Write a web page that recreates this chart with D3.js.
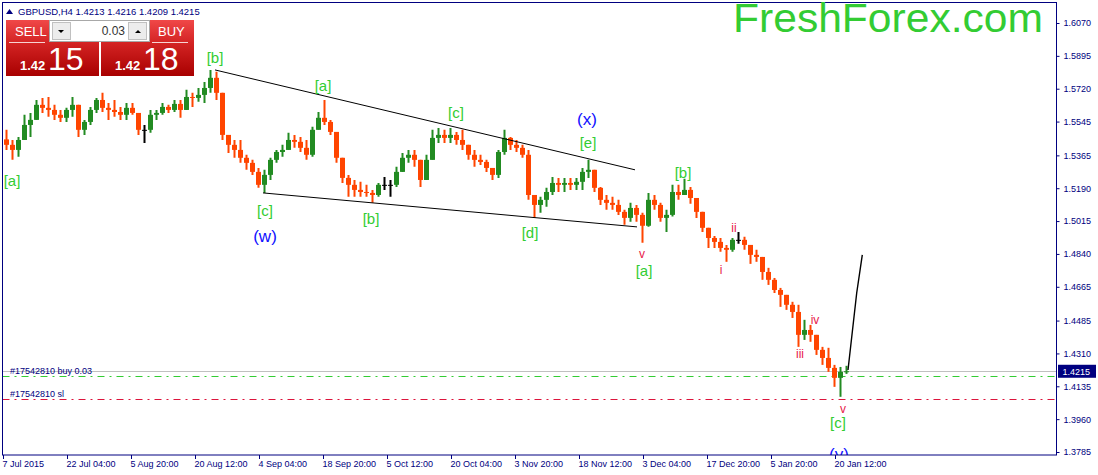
<!DOCTYPE html>
<html>
<head>
<meta charset="utf-8">
<script src="https://cdn.jsdelivr.net/npm/d3@7"></script>
<style>
  body { margin: 0; background: #fff; }
  svg { display: block; font-family: "Liberation Sans", Arial, sans-serif; }
</style>
</head>
<body>
<div id="chart"></div>
<script>
// GBPUSD H4 chart, price path (6 H4 bars each)

const symbol = "GBPUSD,H4";
const lastBar = ["1.4213", "1.4216", "1.4209", "1.4215"];
const lotSize = "0.03";
const sellQuote = ["1.42", "15"];
const buyQuote = ["1.42", "18"];
const ticket = "#17542810";

const firstOpen = 1.5450;
const highs = [
  1.5501, 1.5447, 1.5463, 1.5581, 1.5591, 1.5660, 1.5671, 1.5676, 1.5634, 1.5607,
  1.5618, 1.5676, 1.5634, 1.5554, 1.5623, 1.5671, 1.5698, 1.5644, 1.5660, 1.5623,
  1.5644, 1.5644, 1.5591, 1.5527, 1.5607, 1.5607, 1.5644, 1.5634, 1.5660, 1.5660,
  1.5714, 1.5698, 1.5724, 1.5756, 1.5820, 1.5810, 1.5698, 1.5474, 1.5447, 1.5447,
  1.5368, 1.5341, 1.5298, 1.5288, 1.5352, 1.5394, 1.5421, 1.5485, 1.5474, 1.5463,
  1.5447, 1.5517, 1.5596, 1.5660, 1.5554, 1.5490, 1.5352, 1.5261, 1.5234, 1.5224,
  1.5208, 1.5181, 1.5218, 1.5250, 1.5234, 1.5304, 1.5378, 1.5394, 1.5394, 1.5341,
  1.5368, 1.5501, 1.5511, 1.5501, 1.5511, 1.5490, 1.5501, 1.5421, 1.5394, 1.5368,
  1.5341, 1.5298, 1.5394, 1.5501, 1.5463, 1.5447, 1.5421, 1.5394, 1.5154, 1.5144,
  1.5192, 1.5250, 1.5245, 1.5245, 1.5245, 1.5245, 1.5298, 1.5341, 1.5288, 1.5197,
  1.5154, 1.5144, 1.5128, 1.5075, 1.5112, 1.5101, 1.5059, 1.5165, 1.5154, 1.5112,
  1.5075, 1.5208, 1.5208, 1.5240, 1.5197, 1.5138, 1.5064, 1.4979, 1.4936, 1.4925,
  1.4888, 1.4925, 1.4957, 1.4931, 1.4888, 1.4862, 1.4824, 1.4766, 1.4712, 1.4659,
  1.4622, 1.4585, 1.4569, 1.4489, 1.4462, 1.4409, 1.4345, 1.4340, 1.4249, 1.4238,
  1.4244
];
const lows = [
  1.5394, 1.5341, 1.5357, 1.5447, 1.5463, 1.5554, 1.5591, 1.5570, 1.5554, 1.5543,
  1.5543, 1.5570, 1.5463, 1.5474, 1.5527, 1.5591, 1.5596, 1.5554, 1.5570, 1.5554,
  1.5554, 1.5581, 1.5474, 1.5431, 1.5485, 1.5554, 1.5581, 1.5591, 1.5596, 1.5565,
  1.5607, 1.5623, 1.5650, 1.5644, 1.5698, 1.5660, 1.5447, 1.5378, 1.5352, 1.5325,
  1.5288, 1.5261, 1.5192, 1.5165, 1.5234, 1.5325, 1.5357, 1.5394, 1.5405, 1.5383,
  1.5341, 1.5357, 1.5501, 1.5527, 1.5474, 1.5325, 1.5218, 1.5144, 1.5144, 1.5144,
  1.5144, 1.5112, 1.5144, 1.5181, 1.5144, 1.5197, 1.5277, 1.5325, 1.5304, 1.5197,
  1.5234, 1.5341, 1.5431, 1.5431, 1.5431, 1.5421, 1.5394, 1.5341, 1.5304, 1.5314,
  1.5277, 1.5234, 1.5245, 1.5368, 1.5394, 1.5383, 1.5352, 1.5128, 1.5032, 1.5059,
  1.5091, 1.5154, 1.5170, 1.5170, 1.5181, 1.5181, 1.5181, 1.5245, 1.5170, 1.5101,
  1.5075, 1.5075, 1.5048, 1.4995, 1.5011, 1.5011, 1.4899, 1.4985, 1.5075, 1.5011,
  1.4957, 1.5040, 1.5128, 1.5154, 1.5107, 1.5032, 1.4957, 1.4872, 1.4872, 1.4851,
  1.4798, 1.4851, 1.4894, 1.4862, 1.4787, 1.4798, 1.4702, 1.4675, 1.4632, 1.4558,
  1.4542, 1.4499, 1.4345, 1.4382, 1.4372, 1.4302, 1.4249, 1.4212, 1.4132, 1.4079,
  1.4201
];
const closes = [
  1.5421, 1.5394, 1.5447, 1.5527, 1.5554, 1.5634, 1.5618, 1.5607, 1.5581, 1.5565,
  1.5607, 1.5634, 1.5501, 1.5543, 1.5607, 1.5660, 1.5618, 1.5607, 1.5596, 1.5581,
  1.5618, 1.5591, 1.5501, 1.5501, 1.5581, 1.5591, 1.5623, 1.5607, 1.5639, 1.5607,
  1.5676, 1.5671, 1.5687, 1.5724, 1.5778, 1.5698, 1.5474, 1.5421, 1.5394, 1.5352,
  1.5325, 1.5277, 1.5208, 1.5261, 1.5341, 1.5383, 1.5394, 1.5447, 1.5437, 1.5405,
  1.5368, 1.5501, 1.5565, 1.5543, 1.5490, 1.5352, 1.5245, 1.5208, 1.5181, 1.5170,
  1.5165, 1.5154, 1.5208, 1.5208, 1.5208, 1.5277, 1.5352, 1.5368, 1.5341, 1.5234,
  1.5341, 1.5458, 1.5474, 1.5458, 1.5474, 1.5447, 1.5421, 1.5368, 1.5341, 1.5330,
  1.5298, 1.5261, 1.5383, 1.5458, 1.5421, 1.5405, 1.5368, 1.5154, 1.5101, 1.5128,
  1.5170, 1.5218, 1.5208, 1.5218, 1.5208, 1.5224, 1.5277, 1.5288, 1.5192, 1.5128,
  1.5112, 1.5101, 1.5064, 1.5032, 1.5085, 1.5048, 1.4990, 1.5128, 1.5101, 1.5032,
  1.5048, 1.5170, 1.5154, 1.5181, 1.5138, 1.5064, 1.4979, 1.4925, 1.4904, 1.4872,
  1.4862, 1.4915, 1.4915, 1.4888, 1.4835, 1.4824, 1.4744, 1.4702, 1.4648, 1.4622,
  1.4569, 1.4531, 1.4409, 1.4435, 1.4409, 1.4329, 1.4286, 1.4233, 1.4180, 1.4212,
  1.4215
];

const barsPerDay = 6;
const barsPerTick = 64;
const timeLabels = [
  "7 Jul 2015", "22 Jul 04:00", "5 Aug 20:00", "20 Aug 12:00", "4 Sep 04:00",
  "18 Sep 20:00", "5 Oct 12:00", "20 Oct 04:00", "3 Nov 20:00", "18 Nov 12:00",
  "3 Dec 04:00", "17 Dec 20:00", "5 Jan 20:00", "20 Jan 12:00"
];
const priceTicks = [
  1.6070, 1.5895, 1.5720, 1.5545, 1.5365, 1.5190, 1.5015,
  1.4840, 1.4665, 1.4485, 1.4310, 1.4135, 1.3960, 1.3785
];

const bidPrice = 1.4215;
const buyPrice = 1.4190;
const slPrice = 1.4068;

// Dreieck (Trendlinien) und Projektion, in Bar/Preis
const trendUpper = [{ bar: 212, price: 1.5820 }, { bar: 632, price: 1.5288 }];
const trendLower = [{ bar: 260, price: 1.5165 }, { bar: 634, price: 1.4984 }];
const projection = [{ bar: 845, price: 1.4222 }, { bar: 853.7, price: 1.4632 }, { bar: 859.3, price: 1.4835 }];

// Wellen-Beschriftungen
const waveLabels = [
  { text: "[a]", kind: "minor", bar: 9, price: 1.5202 },
  { text: "[b]", kind: "minor", bar: 212, price: 1.5857 },
  { text: "[c]", kind: "minor", bar: 262, price: 1.5043 },
  { text: "(w)", kind: "inter", bar: 262, price: 1.4904 },
  { text: "[a]", kind: "minor", bar: 320, price: 1.5708 },
  { text: "[b]", kind: "minor", bar: 368, price: 1.5000 },
  { text: "[c]", kind: "minor", bar: 453, price: 1.5565 },
  { text: "[d]", kind: "minor", bar: 527, price: 1.4925 },
  { text: "(x)", kind: "inter", bar: 584, price: 1.5527 },
  { text: "[e]", kind: "minor", bar: 585, price: 1.5405 },
  { text: "v", kind: "minute", bar: 639, price: 1.4819 },
  { text: "[a]", kind: "minor", bar: 641, price: 1.4723 },
  { text: "[b]", kind: "minor", bar: 680, price: 1.5245 },
  { text: "i", kind: "minute", bar: 718, price: 1.4734 },
  { text: "ii", kind: "minute", bar: 731, price: 1.4957 },
  { text: "iii", kind: "minute", bar: 797, price: 1.4286 },
  { text: "iv", kind: "minute", bar: 812, price: 1.4467 },
  { text: "v", kind: "minute", bar: 840, price: 1.3993 },
  { text: "[c]", kind: "minor", bar: 835, price: 1.3914 },
  { text: "(y)", kind: "inter", bar: 836, price: 1.3743 }
];

const labelStyle = {
  minor: { fill: "#32cd32", size: 15 },
  inter: { fill: "#1010ff", size: 17 },
  minute: { fill: "#e8204a", size: 12 }
};

const width = 1098;
const height = 475;
const frame = { left: 2.5, top: 2.5, right: 1056.5, bottom: 455 };
const navy = "#000080";

const svg = d3.select("#chart").append("svg")
    .attr("width", width)
    .attr("height", height);

const x = d3.scaleLinear().domain([0, 1054]).range([3, 1057]);
const y = d3.scaleLinear().domain([1.3785, 1.6070]).range([452, 23]);

const defs = svg.append("defs");
defs.append("clipPath").attr("id", "plotClip")
  .append("rect")
    .attr("x", frame.left).attr("y", frame.top)
    .attr("width", frame.right - frame.left).attr("height", frame.bottom - frame.top);

const redGrad = defs.append("linearGradient").attr("id", "redGrad")
    .attr("x1", 0).attr("y1", 0).attr("x2", 0).attr("y2", 1);
redGrad.append("stop").attr("offset", "0%").attr("stop-color", "#f04848");
redGrad.append("stop").attr("offset", "40%").attr("stop-color", "#d42424");
redGrad.append("stop").attr("offset", "100%").attr("stop-color", "#a80000");

const plot = svg.append("g").attr("clip-path", "url(#plotClip)");

// Geldkurs- und Order-Linien
const snap = v => Math.round(v) + 0.5;
plot.append("line")
    .attr("x1", frame.left).attr("x2", frame.right)
    .attr("y1", snap(y(bidPrice))).attr("y2", snap(y(bidPrice)))
    .style("stroke", "#c0c0c0");

[[buyPrice, "#32cd32", " buy " + lotSize], [slPrice, "#dc143c", " sl"]].forEach(([p, col, txt]) => {
    plot.append("line")
        .attr("x1", frame.left).attr("x2", frame.right)
        .attr("y1", snap(y(p))).attr("y2", snap(y(p)))
        .style("stroke", col)
        .style("stroke-dasharray", "7,5,2,5");
    plot.append("text")
        .attr("x", 10).attr("y", y(p) - 2)
        .text(ticket + txt)
        .style("font-size", "9px")
        .style("fill", navy);
});

// Kerzen
const candles = closes.map((c, i) => ({
    bar: i * barsPerDay + barsPerDay / 2,
    open: i === 0 ? firstOpen : closes[i - 1],
    high: highs[i],
    low: lows[i],
    close: c
}));
const candleColor = d => d.close > d.open ? "#228b22" : (d.close < d.open ? "#ff4500" : "#000");

plot.selectAll("line.wick").data(candles).join("line")
    .attr("class", "wick")
    .attr("x1", d => Math.round(x(d.bar)) + 0.5)
    .attr("x2", d => Math.round(x(d.bar)) + 0.5)
    .attr("y1", d => y(d.high))
    .attr("y2", d => y(d.low))
    .style("stroke", candleColor)
    .style("stroke-width", 2);

plot.selectAll("rect.body").data(candles).join("rect")
    .attr("class", "body")
    .attr("x", d => Math.round(x(d.bar)) - 2)
    .attr("width", 5)
    .attr("y", d => y(Math.max(d.open, d.close)))
    .attr("height", d => Math.max(1, Math.abs(y(d.open) - y(d.close))))
    .style("fill", candleColor);

// Trendlinien
const line = d3.line().x(d => x(d.bar)).y(d => y(d.price));
[trendUpper, trendLower].forEach(t => {
    plot.append("path").attr("d", line(t))
        .style("fill", "none").style("stroke", "#000").style("stroke-width", 1);
});
plot.append("path").attr("d", line(projection))
    .style("fill", "none").style("stroke", "#000").style("stroke-width", 1.4);

// Wellen-Labels
plot.selectAll("text.wave").data(waveLabels).join("text")
    .attr("class", "wave")
    .attr("x", d => x(d.bar))
    .attr("y", d => y(d.price))
    .attr("text-anchor", "middle")
    .text(d => d.text)
    .style("font-size", d => labelStyle[d.kind].size + "px")
    .style("fill", d => labelStyle[d.kind].fill);

// Rahmen
svg.append("rect")
    .attr("x", frame.left).attr("y", frame.top)
    .attr("width", frame.right - frame.left).attr("height", frame.bottom - frame.top)
    .style("fill", "none").style("stroke", navy);

// Preisachse rechts
const yAxis = svg.append("g")
    .attr("transform", `translate(${frame.right},0)`)
    .call(d3.axisRight(y).tickValues(priceTicks).tickFormat(d3.format(".4f")).tickSize(3).tickPadding(4));
yAxis.select(".domain").remove();
yAxis.selectAll("line").style("stroke", navy);
yAxis.selectAll("text")
    .style("font-family", "'Liberation Sans', Arial, sans-serif")
    .style("font-size", "9px").style("fill", navy);

svg.append("rect")
    .attr("x", frame.right + 1.5).attr("y", y(bidPrice) - 6.5)
    .attr("width", 38).attr("height", 13)
    .style("fill", navy);
svg.append("text")
    .attr("x", frame.right + 6).attr("y", y(bidPrice) + 3.5)
    .text(d3.format(".4f")(bidPrice))
    .style("font-size", "9px").style("fill", "#fff");

// Zeitachse unten
const xAxis = svg.append("g")
    .attr("transform", `translate(0,${frame.bottom})`)
    .call(d3.axisBottom(x)
        .tickValues(timeLabels.map((_, i) => i * barsPerTick))
        .tickFormat((_, i) => timeLabels[i])
        .tickSize(4).tickPadding(2));
xAxis.select(".domain").remove();
xAxis.selectAll("line").style("stroke", navy);
xAxis.selectAll("text")
    .attr("text-anchor", "start")
    .attr("dx", -1)
    .style("font-family", "'Liberation Sans', Arial, sans-serif")
    .style("font-size", "9px").style("fill", navy);

// Kopfzeile
svg.append("path").attr("d", "M6,14 L9.5,9 L13,14 Z").style("fill", navy);
svg.append("text")
    .attr("x", 18).attr("y", 15)
    .text(symbol + "  " + lastBar.join(" "))
    .style("font-size", "9.5px").style("fill", navy);

// Logo
svg.append("text")
    .attr("x", 733).attr("y", 32)
    .attr("textLength", 310)
    .attr("lengthAdjust", "spacingAndGlyphs")
    .text("FreshForex.com")
    .style("font-size", "40px")
    .style("fill", "#33cc33");

// Handelspanel
function tradeBox(left, label, quote, labelX) {
    svg.append("rect")
        .attr("x", left).attr("y", 20).attr("width", 93).attr("height", 56)
        .style("fill", "url(#redGrad)");
    svg.append("line")
        .attr("x1", labelX - 6).attr("x2", labelX + 30)
        .attr("y1", 42.5).attr("y2", 42.5)
        .style("stroke", "#fff").style("stroke-opacity", 0.8);
    svg.append("text")
        .attr("x", labelX).attr("y", 36)
        .text(label)
        .style("font-size", "13px").style("fill", "#fff");
    svg.append("text")
        .attr("x", left + 14).attr("y", 70)
        .text(quote[0])
        .style("font-size", "13px").style("font-weight", "bold").style("fill", "#fff");
    svg.append("text")
        .attr("x", left + 42).attr("y", 70)
        .text(quote[1])
        .style("font-size", "32px").style("fill", "#fff");
}
tradeBox(6, "SELL", sellQuote, 15);
tradeBox(101, "BUY", buyQuote, 158);

svg.append("rect")
    .attr("x", 49.5).attr("y", 20.5).attr("width", 100).attr("height", 21)
    .style("fill", "#fff").style("stroke", "#a8a8a8");
[[52.5, "M58,30 L64,30 L61,33 Z"], [128.5, "M135,33 L141,33 L138,30 Z"]].forEach(([bx, tri]) => {
    svg.append("rect")
        .attr("x", bx).attr("y", 22.5).attr("width", 18).attr("height", 17)
        .style("fill", "#ececec").style("stroke", "#c0c0c0");
    svg.append("path").attr("d", tri).style("fill", "#000");
});
svg.append("text")
    .attr("x", 125).attr("y", 35)
    .attr("text-anchor", "end")
    .text(lotSize)
    .style("font-size", "12px").style("fill", "#333");
</script>
</body>
</html>
